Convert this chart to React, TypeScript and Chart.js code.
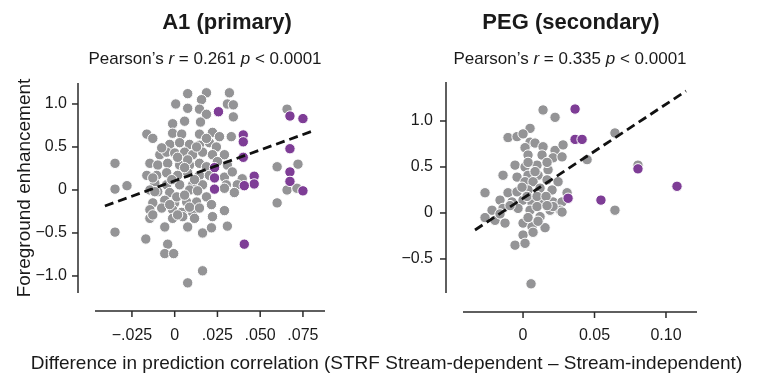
import React, { useEffect, useRef } from 'react';
import { Chart, registerables } from 'chart.js';

Chart.register(...registerables);

const FONT = '"Liberation Sans", Arial, Helvetica, sans-serif';
const TEXT = '#1a1a1a';
const AXIS = '#2a2a2a';
const GRAY = '#949496';
const PURPLE = '#7e3d96';

// ---------- A1 (primary) ----------
const a1Title = 'A1 (primary)';
const a1R = '0.261';
const a1P = '0.0001';
const a1XTicks = [-0.025, 0, 0.025, 0.05, 0.075];
const a1XLabels = ['\u2212.025', '0', '.025', '.050', '.075'];
const a1YTicks = [-1, -0.5, 0, 0.5, 1];
const a1YLabels = ['\u22121.0', '\u22120.5', '0', '0.5', '1.0'];
const a1Gray: number[][] = [
  [0.0006, 1.0], [0.0076, 1.12], [0.0076, 0.95], [0.0186, 1.13], [0.0157, 1.05], [0.0145, 0.94],
  [0.032, 1.13], [0.0308, 1.0], [0.0343, 0.99], [0.0343, 0.85], [0.0186, 0.88], [-0.0012, 0.77],
  [0.0058, 0.8], [0.0151, 0.79], [-0.0163, 0.65], [-0.0128, 0.6], [-0.0012, 0.66], [0.0041, 0.65],
  [0.0145, 0.65], [0.0221, 0.67], [0.0262, 0.62], [-0.0029, 0.53], [0.0029, 0.55], [0.0087, 0.53],
  [0.0145, 0.52], [0.0203, 0.55], [0.0244, 0.5], [0.0331, 0.62], [-0.0087, 0.41], [-0.0047, 0.44],
  [0, 0.43], [0.0058, 0.44], [0.0105, 0.41], [0.0163, 0.44], [0.0221, 0.41], [0.0291, 0.41],
  [-0.0349, 0.31], [-0.0145, 0.31], [-0.0099, 0.29], [-0.0041, 0.31], [0.0029, 0.29], [0.0087, 0.29],
  [0.0145, 0.31], [0.0186, 0.27], [0.0308, 0.29], [-0.0163, 0.17], [-0.0105, 0.17], [-0.0047, 0.2],
  [0.0017, 0.17], [0.0076, 0.2], [0.0145, 0.17], [0.0291, 0.15], [0.0337, 0.21], [0.0395, 0.13],
  [-0.0116, 0.08], [-0.0047, 0.06], [0.0029, 0.06], [0.0105, 0.06], [0.0163, 0.06], [0.0302, 0.06],
  [0.0366, 0.06], [-0.0349, 0.01], [-0.0279, 0.05], [-0.0145, 0], [-0.0099, -0.02], [-0.0029, -0.03],
  [0.0087, 0], [0.0134, -0.01], [0.0186, -0.08], [0.0291, 0.02], [0.0349, -0.03], [-0.0128, -0.15],
  [-0.0058, -0.12], [0, -0.15], [0.007, -0.14], [0.0128, -0.14], [-0.0145, -0.23], [-0.0076, -0.21],
  [-0.0012, -0.23], [0.0041, -0.26], [0.0105, -0.26], [-0.0145, -0.33], [-0.0012, -0.33], [0.0047, -0.31],
  [0.0116, -0.33], [0.0221, -0.31], [0.0291, -0.24], [-0.0349, -0.49], [-0.0169, -0.57], [-0.0058, -0.43],
  [0.0076, -0.43], [0.0163, -0.5], [0.0215, -0.44], [0.0308, -0.42], [-0.0041, -0.63], [-0.0058, -0.74],
  [-0.0006, -0.74], [0.0163, -0.94], [0.0076, -1.08], [0.0599, 0.27], [0.0657, 0.94], [0.0721, 0.3],
  [0.0657, 0], [0.0715, 0.02], [0.0599, -0.15],
  [-0.0076, 0.49], [0.0017, 0.38], [0.0076, 0.35], [0.0128, 0.5], [0.0186, 0.6], [0.025, 0.33],
  [0.0058, 0.26], [-0.0017, 0.12], [0.0116, 0.12], [0.0203, 0.17], [-0.0128, 0.14], [-0.0116, -0.02],
  [0.0012, -0.08], [0.0058, -0.06], [-0.0029, -0.17], [0.0087, -0.2], [-0.0128, -0.29], [0.0017, -0.29],
  [0.0145, -0.21], [0.0215, -0.17],
];
const a1Purple: number[][] = [
  [0.0256, 0.91], [0.0401, 0.64], [0.0401, 0.56], [0.0401, 0.38], [0.0233, 0.26], [0.0233, 0.14],
  [0.0233, 0.01], [0.0465, 0.16], [0.0465, 0.07], [0.0407, 0.05], [0.0674, 0.86], [0.075, 0.83],
  [0.0674, 0.48], [0.0674, 0.21], [0.0674, 0.1], [0.075, -0.01], [0.0407, -0.63],
];
const a1Fit: number[][] = [[-0.0408, -0.186], [0.0808, 0.686]];

// ---------- PEG (secondary) ----------
const pegTitle = 'PEG (secondary)';
const pegR = '0.335';
const pegP = '0.0001';
const pegXTicks = [0, 0.05, 0.1];
const pegXLabels = ['0', '0.05', '0.10'];
const pegYTicks = [-0.5, 0, 0.5, 1];
const pegYLabels = ['\u22120.5', '0', '0.5', '1.0'];
const pegGray: number[][] = [
  [0.014, 1.12], [0.0224, 1.04], [0.0049, 0.92], [-0.0105, 0.82], [-0.0042, 0.83], [0, 0.86],
  [0.0049, 0.77], [0.0084, 0.76], [0.014, 0.72], [0.0224, 0.68], [0.028, 0.74], [0.0014, 0.71],
  [0.0035, 0.63], [0.0133, 0.63], [0.021, 0.6], [0.0273, 0.61], [0.0448, 0.58], [0.0643, 0.87],
  [-0.0056, 0.52], [0.0014, 0.5], [0.0098, 0.52], [0.0175, 0.47], [-0.014, 0.41], [-0.0042, 0.39],
  [0.0035, 0.41], [0.0105, 0.41], [0.0168, 0.36], [0.0245, 0.34], [0.0014, 0.34], [0.007, 0.34],
  [-0.0266, 0.22], [-0.0105, 0.22], [-0.0042, 0.23], [0.0035, 0.25], [0.0119, 0.27], [0.0203, 0.25],
  [0.0308, 0.22], [-0.0161, 0.14], [-0.0077, 0.12], [0, 0.14], [0.0063, 0.11], [0.0133, 0.12],
  [0.021, 0.12], [0.0273, 0.12], [-0.0217, 0.03], [-0.014, 0.05], [-0.0035, 0.05], [0.0049, 0.03],
  [0.0189, 0.03], [0.0259, 0.03], [0.0273, 0.01], [0.021, 0.07], [-0.0266, -0.05], [-0.0196, -0.08],
  [-0.0126, -0.11], [0, -0.11], [0.0063, -0.15], [0.0119, -0.04], [0.0154, -0.16], [0, -0.24],
  [0.007, -0.21], [-0.0056, -0.35], [0.0014, -0.33], [0.0056, -0.77], [0.0643, 0.03], [0.0804, 0.52],
  [0.0084, 0.45], [0.0028, 0.18], [0.0098, 0.18], [0.0161, 0.18], [-0.0091, 0.08], [0.0098, 0.07],
  [0.0168, 0.08], [-0.0161, -0.01], [0.0035, -0.05], [0.0105, -0.09], [0.0035, 0.55], [0.0168, 0.55],
  [-0.0007, 0.28],
];
const pegPurple: number[][] = [
  [0.0364, 1.13], [0.0364, 0.8], [0.0413, 0.8], [0.0804, 0.48], [0.1077, 0.29], [0.0315, 0.16],
  [0.0545, 0.14],
];
const pegFit: number[][] = [[-0.0336, -0.185], [0.114, 1.326]];

const yAxisTitle = 'Foreground enhancement';
const xAxisTitle = 'Difference in prediction correlation (STRF Stream-dependent \u2013 Stream-independent)';

type PanelProps = {
  width: number;
  left: number;
  title: string;
  r: string;
  p: string;
  gray: number[][];
  purple: number[][];
  fit: number[][];
  xTicks: number[];
  xLabels: string[];
  yTicks: number[];
  yLabels: string[];
  xMin: number;
  xMax: number;
  yMin: number;
  yMax: number;
  area: { left: number; right: number; top: number; bottom: number };
  yOffset: number;
  xOffset: number;
  yLabelPad: number;
  xLabelPad: number;
  titleX: number;
  subX: number;
  showYTitle: boolean;
};

function labelFor(ticks: number[], labels: string[], v: number) {
  const i = ticks.findIndex((t) => Math.abs(t - v) < 1e-9);
  return i >= 0 ? labels[i] : '';
}

function Panel(props: PanelProps) {
  const ref = useRef<HTMLCanvasElement | null>(null);
  useEffect(() => {
    const canvas = ref.current;
    if (!canvas) return;
    const H = 376;
    const pts = (arr: number[][]) => arr.map(([x, y]) => ({ x, y }));
    const decor = {
      id: 'decor',
      afterDraw(chart: any) {
        const ctx = chart.ctx as CanvasRenderingContext2D;
        const { left, right, top, bottom } = chart.chartArea;
        const xs = chart.scales.x;
        const ys = chart.scales.y;
        ctx.save();
        ctx.strokeStyle = AXIS;
        ctx.lineWidth = 1.5;
        const ax = left - props.yOffset;
        ctx.beginPath();
        ctx.moveTo(ax, top);
        ctx.lineTo(ax, bottom);
        ctx.stroke();
        ys.ticks.forEach((t: any) => {
          const py = ys.getPixelForValue(t.value);
          ctx.beginPath();
          ctx.moveTo(ax - 6, py);
          ctx.lineTo(ax, py);
          ctx.stroke();
        });
        const ay = bottom + props.xOffset;
        ctx.beginPath();
        ctx.moveTo(left, ay);
        ctx.lineTo(right, ay);
        ctx.stroke();
        xs.ticks.forEach((t: any) => {
          const px = xs.getPixelForValue(t.value);
          ctx.beginPath();
          ctx.moveTo(px, ay);
          ctx.lineTo(px, ay + 6);
          ctx.stroke();
        });
        // title
        ctx.fillStyle = TEXT;
        ctx.textBaseline = 'alphabetic';
        ctx.textAlign = 'center';
        ctx.font = `bold 22px ${FONT}`;
        ctx.fillText(props.title, props.titleX, 29);
        // subtitle with italic r and p
        const runs: [string, boolean][] = [
          ['Pearson\u2019s ', false],
          ['r', true],
          [` = ${props.r} `, false],
          ['p', true],
          [` < ${props.p}`, false],
        ];
        const fontN = `17px ${FONT}`;
        const fontI = `italic 17px ${FONT}`;
        let total = 0;
        runs.forEach(([s, it]) => {
          ctx.font = it ? fontI : fontN;
          total += ctx.measureText(s).width;
        });
        let cx = props.subX - total / 2;
        ctx.textAlign = 'left';
        runs.forEach(([s, it]) => {
          ctx.font = it ? fontI : fontN;
          ctx.fillText(s, cx, 64);
          cx += ctx.measureText(s).width;
        });
        ctx.restore();
      },
    };
    const chart = new Chart(canvas, {
      type: 'scatter',
      data: {
        datasets: [
          {
            label: 'fit',
            data: pts(props.fit),
            showLine: true,
            borderColor: '#111111',
            borderWidth: 2.8,
            borderDash: [9, 5],
            pointRadius: 0,
            fill: false,
            order: 1,
          } as any,
          {
            label: 'stream-dependent',
            data: pts(props.purple),
            backgroundColor: PURPLE,
            borderColor: '#ffffff',
            borderWidth: 1,
            pointRadius: 5.2,
            order: 2,
          },
          {
            label: 'other',
            data: pts(props.gray),
            backgroundColor: GRAY,
            borderColor: '#ffffff',
            borderWidth: 1,
            pointRadius: 5.2,
            order: 3,
          },
        ],
      },
      options: {
        animation: false,
        responsive: false,
        devicePixelRatio: 1,
        events: [],
        layout: {
          padding: {
            left: 0,
            top: props.area.top,
            right: props.width - props.area.right,
            bottom: 0,
          },
        },
        plugins: {
          legend: { display: false },
          tooltip: { enabled: false },
          title: { display: false },
        },
        scales: {
          x: {
            type: 'linear',
            min: props.xMin,
            max: props.xMax,
            grid: { display: false, drawTicks: false },
            border: { display: false },
            afterBuildTicks: (s: any) => {
              s.ticks = props.xTicks.map((v) => ({ value: v }));
            },
            afterFit: (s: any) => {
              s.height = H - props.area.bottom;
            },
            ticks: {
              autoSkip: false,
              maxRotation: 0,
              padding: props.xLabelPad,
              color: TEXT,
              font: { family: FONT, size: 16 },
              callback: (v: any) => labelFor(props.xTicks, props.xLabels, Number(v)),
            },
          },
          y: {
            type: 'linear',
            min: props.yMin,
            max: props.yMax,
            grid: { display: false, drawTicks: false },
            border: { display: false },
            afterBuildTicks: (s: any) => {
              s.ticks = props.yTicks.map((v) => ({ value: v }));
            },
            afterFit: (s: any) => {
              s.width = props.area.left;
            },
            title: {
              display: props.showYTitle,
              text: yAxisTitle,
              color: TEXT,
              font: { family: FONT, size: 19 },
              padding: { top: 13, bottom: 0 },
            },
            ticks: {
              autoSkip: false,
              padding: props.yLabelPad,
              color: TEXT,
              font: { family: FONT, size: 16 },
              callback: (v: any) => labelFor(props.yTicks, props.yLabels, Number(v)),
            },
          },
        },
      },
      plugins: [decor],
    });
    return () => chart.destroy();
  }, []);
  return (
    <canvas
      ref={ref}
      width={props.width}
      height={376}
      style={{ position: 'absolute', left: props.left, top: 0, width: props.width, height: 376 }}
    />
  );
}

export default function App() {
  return (
    <div
      style={{
        position: 'fixed',
        left: 0,
        top: 0,
        width: 759,
        height: 376,
        background: '#ffffff',
        overflow: 'hidden',
      }}
    >
      <Panel
        width={380}
        left={0}
        title={a1Title}
        r={a1R}
        p={a1P}
        gray={a1Gray}
        purple={a1Purple}
        fit={a1Fit}
        xTicks={a1XTicks}
        xLabels={a1XLabels}
        yTicks={a1YTicks}
        yLabels={a1YLabels}
        xMin={-0.0466}
        xMax={0.0879}
        yMin={-1.198}
        yMax={1.244}
        area={{ left: 95, right: 325, top: 83, bottom: 293 }}
        yOffset={17}
        xOffset={18}
        yLabelPad={28}
        xLabelPad={33}
        titleX={227}
        subX={205}
        showYTitle={true}
      />
      <Panel
        width={379}
        left={380}
        title={pegTitle}
        r={pegR}
        p={pegP}
        gray={pegGray}
        purple={pegPurple}
        fit={pegFit}
        xTicks={pegXTicks}
        xLabels={pegXLabels}
        yTicks={pegYTicks}
        yLabels={pegYLabels}
        xMin={-0.042}
        xMax={0.1217}
        yMin={-0.87}
        yMax={1.424}
        area={{ left: 83, right: 317, top: 82, bottom: 293 }}
        yOffset={17}
        xOffset={19}
        yLabelPad={30}
        xLabelPad={33}
        titleX={191}
        subX={190}
        showYTitle={false}
      />
      <div
        style={{
          position: 'absolute',
          left: 0,
          top: 352,
          width: 773,
          textAlign: 'center',
          fontFamily: FONT,
          fontSize: 19,
          lineHeight: '22px',
          color: TEXT,
          whiteSpace: 'nowrap',
        }}
      >
        {xAxisTitle}
      </div>
    </div>
  );
}
